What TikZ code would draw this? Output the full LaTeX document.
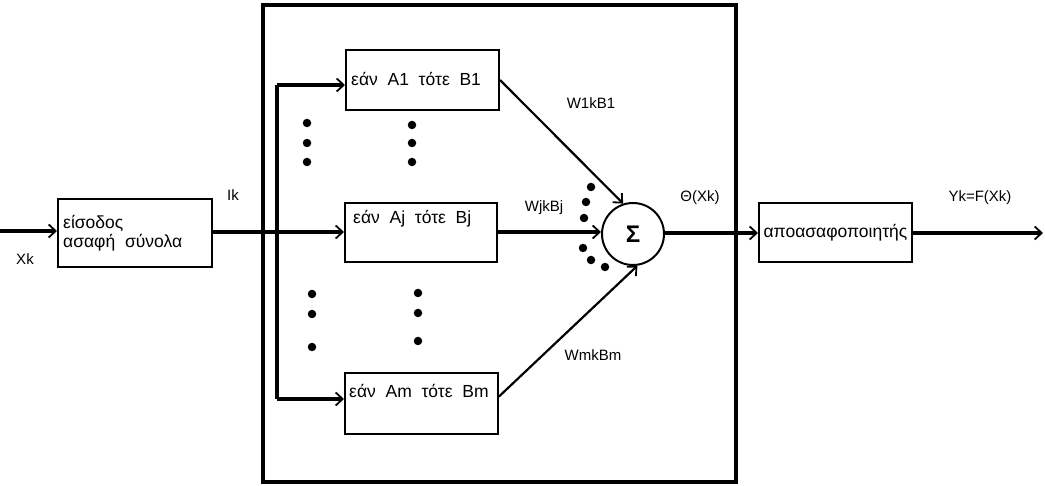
\documentclass[tikz,border=0pt]{standalone}
\usepackage{fontspec}
\setmainfont{Liberation Sans}
\usetikzlibrary{arrows.meta,calc}
\begin{document}
\begin{tikzpicture}[x=1pt,y=-1pt,
  box/.style={draw,line width=2pt,rectangle,inner sep=0pt},
  thick line/.style={line width=3.4pt},
  thin line/.style={line width=2.2pt},
  arr/.style={-{Straight Barb[length=7pt,width=13pt,line width=1.8pt]}},
  lbl/.style={font=\fontsize{15}{17}\selectfont,inner sep=0pt},
  btxt/.style={font=\fontsize{17.5}{20}\selectfont,inner sep=0pt,anchor=west},
  dotm/.style={circle,fill,inner sep=0pt,minimum size=8.5pt}]
\useasboundingbox (0,0) rectangle (1045,486);
% big frame
\node[draw,line width=3.4pt,minimum width=473pt,minimum height=477pt,inner sep=0pt] (frame) at (499.5,243.5) {};
% boxes
\node[box,minimum width=154pt,minimum height=68pt] (inbox) at (135,233) {};
\node[box,minimum width=153pt,minimum height=60pt] (A1) at (422.5,80) {};
\node[box,minimum width=152pt,minimum height=59pt] (Aj) at (421,232.5) {};
\node[box,minimum width=153pt,minimum height=61pt] (Am) at (421.5,403.5) {};
\node[draw,line width=2pt,circle,minimum size=62pt,inner sep=0pt,font=\fontsize{24}{26}\selectfont\bfseries] (sum) at (633,234) {Σ};
\node[box,minimum width=153pt,minimum height=59pt] (defz) at (835.5,232.5) {};
% box texts
\node[btxt] (t1) at (63,223) {είσοδος};
\node[btxt] (t2) at (63,243) {ασαφή\ \ σύνολα};
\node[btxt] (tA1) at (351,79) {εάν\ \ A1\ \ τότε\ \ B1};
\node[btxt] (tAj) at (353,219) {εάν\ \ Aj\ \ τότε\ \ Bj};
\node[btxt] (tAm) at (349,391) {εάν\ \ Am\ \ τότε\ \ Bm};
\node[btxt,anchor=center] (tdef) at (835.5,233) {αποασαφοποιητής};
% labels
\node[lbl] (lXk) at (25,259) {Xk};
\node[lbl] (lIk) at (233,195) {Ik};
\node[lbl] (lW1) at (591,103) {W1kB1};
\node[lbl] (lWj) at (544,208) {WjkBj};
\node[lbl] (lWm) at (593,355) {WmkBm};
\node[lbl] (lTh) at (700,198) {Θ(Xk)};
\node[lbl] (lY) at (980,198) {Yk=F(Xk)};
% coordinates
\coordinate (in) at (0,231);
\coordinate (bus1) at (277,85);
\coordinate (busj) at (277,232);
\coordinate (busm) at (277,399);
\coordinate (out) at (1043,233);
% connectors
\draw[thick line,arr] (in) -- (in -| inbox.west);
\draw[thick line] (inbox.east |- busj) -- (busj);
\draw[thick line,arr] (busj) -- (busj -| Aj.west);
\draw[thick line] (bus1) -- (busm);
\draw[thick line,arr] (bus1) -- (bus1 -| A1.west);
\draw[thick line,arr] (busm) -- (busm -| Am.west);
\draw[thin line,arr] (A1.east) -- (sum.108);
\draw[thick line,arr] (Aj.east |- busj) -- (sum.west |- busj);
\draw[thin line,arr] ([yshift=7pt]Am.east) -- (sum.-82);
\draw[thick line,arr] (sum.east |- out) -- (defz.west |- out);
\draw[thick line,arr] (defz.east |- out) -- (out);
% dots
\foreach \x/\y [count=\i] in {307/123,307/143,307/162,412/125,412/143,412/162,312/294,312/314,312/347,418/293,418/313,418/341,591/187,586/202,584/218,583/248,591/260,605/267}
  \node[dotm] (d\i) at (\x,\y) {};
\end{tikzpicture}
\end{document}
